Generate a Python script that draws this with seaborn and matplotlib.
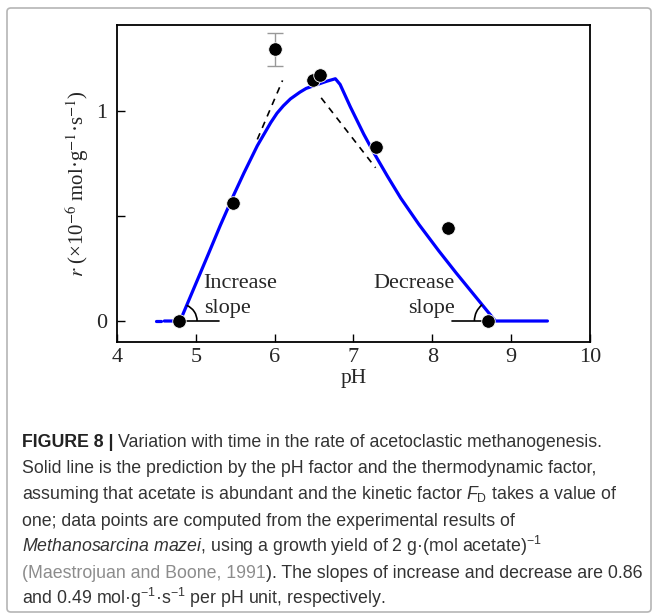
import matplotlib
matplotlib.use("Agg")
import matplotlib.pyplot as plt
import matplotlib.transforms as mtransforms
from matplotlib.patches import Arc, FancyBboxPatch
import numpy as np
import pandas as pd
import seaborn as sns

# ---------------- data ----------------
curve_ph = [4.60, 4.80, 5.16, 5.31, 5.48, 5.61, 5.78, 5.95, 6.03, 6.11, 6.20, 6.32, 6.40,
            6.49, 6.66, 6.77, 6.83, 6.96, 7.13, 7.26, 7.43, 7.60, 7.83, 8.08, 8.30, 8.55,
            8.80, 9.46]
curve_r = [0.0, 0.0, 0.32, 0.455, 0.60, 0.705, 0.835, 0.945, 0.99, 1.025, 1.058, 1.09, 1.108,
           1.12, 1.142, 1.154, 1.127, 1.02, 0.89, 0.80, 0.69, 0.585, 0.46, 0.335, 0.23, 0.115,
           0.0, 0.0]
lead_ph = [4.50, 4.56]
lead_r = [0.0, 0.0]

pts_ph = [4.79, 5.47, 6.00, 6.49, 6.58, 7.28, 8.20, 8.70]
pts_r = [0.0, 0.56, 1.294, 1.146, 1.171, 0.829, 0.444, 0.0]
err_ph = [6.00]
err_r = [1.294]
err_sd = [0.078]

tan_inc_ph = [5.78, 6.10]
tan_inc_r = [0.865, 1.146]
tan_dec_ph = [6.59, 7.28]
tan_dec_r = [1.063, 0.730]

xticks = [4, 5, 6, 7, 8, 9, 10]
yticks = [0, 0.5, 1]
ytick_labels = ["0", "", "1"]

caption_fs_target_px = 623.0

# ---------------- figure ----------------
sns.set_style("ticks")
plt.rcParams["mathtext.fontset"] = "custom"
plt.rcParams["mathtext.rm"] = "Liberation Sans"
plt.rcParams["mathtext.it"] = "Liberation Sans:italic"
plt.rcParams["mathtext.bf"] = "Liberation Sans:bold"

W, H = 657, 614
fig = plt.figure(figsize=(W / 100, H / 100), dpi=100)
ax = fig.add_axes([117 / W, 1 - 342 / H, (590 - 117) / W, (342 - 25) / H])

serif = "Liberation Serif"

df_curve = pd.DataFrame({"pH": curve_ph, "r": curve_r})
sns.lineplot(data=df_curve, x="pH", y="r", sort=False, estimator=None,
             color="#0000ff", lw=2.3, ax=ax, zorder=3)
ax.plot(lead_ph, lead_r, color="#0000ff", lw=2.3, zorder=3)
ax.plot(tan_inc_ph, tan_inc_r, color="black", lw=1.2, ls=(0, (4, 3.5)), zorder=2)
ax.plot(tan_dec_ph, tan_dec_r, color="black", lw=1.2, ls=(0, (4, 3.5)), zorder=2)
ax.errorbar(err_ph, err_r, yerr=err_sd, fmt="none", ecolor="#999999", elinewidth=1.0,
            capsize=5.5, capthick=1.0, zorder=2)
df_pts = pd.DataFrame({"pH": pts_ph, "r": pts_r})
sns.scatterplot(data=df_pts, x="pH", y="r", color="black", s=95, edgecolor="white",
                linewidth=0.6, ax=ax, zorder=5)

ax.set_xlim(4, 10)
ax.set_ylim(-0.1, 1.41)
ax.set_xticks(xticks)
ax.set_xticklabels([str(t) for t in xticks])
ax.set_yticks(yticks)
ax.set_yticklabels(ytick_labels)
ax.tick_params(direction="in", length=6, width=1.0, labelsize=16, color="black")
ax.tick_params(axis="x", pad=4)
ax.tick_params(axis="y", pad=7)
for lab in ax.get_xticklabels() + ax.get_yticklabels():
    lab.set_fontfamily(serif)
for sp in ax.spines.values():
    sp.set_linewidth(1.3)
    sp.set_color("black")

ax.set_xlabel("pH", fontsize=15.5, family=serif, labelpad=2)
ax.set_ylabel(r"$r$ (×10$^{-6}$ mol·g$^{-1}$·s$^{-1}$)", fontsize=15, family=serif,
              math_fontfamily="stix", labelpad=4)

# slope annotations
ax.plot([4.79, 5.30], [0, 0], color="black", lw=1.2, zorder=4)
ax.plot([8.25, 8.72], [0, 0], color="black", lw=1.2, zorder=4)


def pix_angle(p0, p1):
    a = ax.transData.transform(p0)
    b = ax.transData.transform(p1)
    return np.degrees(np.arctan2(b[1] - a[1], b[0] - a[0]))


def add_arc(center, t1, t2, rpx):
    tr = fig.dpi_scale_trans + mtransforms.ScaledTranslation(center[0], center[1], ax.transData)
    arc = Arc((0, 0), 2 * rpx / 100, 2 * rpx / 100, theta1=t1, theta2=t2,
              transform=tr, color="black", lw=1.2, zorder=4)
    ax.add_patch(arc)


a_inc = pix_angle((curve_ph[1], curve_r[1]), (curve_ph[2], curve_r[2]))
a_dec = pix_angle((curve_ph[26], curve_r[26]), (curve_ph[23], curve_r[23]))
add_arc((curve_ph[1], 0), 0, a_inc, 17)
add_arc((curve_ph[26], 0), a_dec, 180, 21)

ax.text(5.10, 0.156, "Increase", fontsize=16, family=serif, ha="left", va="baseline")
ax.text(5.10, 0.040, "slope", fontsize=16, family=serif, ha="left", va="baseline")
ax.text(8.28, 0.156, "Decrease", fontsize=16, family=serif, ha="right", va="baseline")
ax.text(8.28, 0.040, "slope", fontsize=16, family=serif, ha="right", va="baseline")

# ---------------- caption ----------------
border = FancyBboxPatch((7 / W, 1 - 612 / H), (651 - 7) / W, (612 - 8) / H,
                        boxstyle="round,pad=0,rounding_size=0.006",
                        transform=fig.transFigure, fc="none", ec="#b5b5b5", lw=1.2)
fig.patches.append(border)

cap_font = "Liberation Sans"
dark = "#333333"
grey = "#8c8c8c"

renderer = fig.canvas.get_renderer()
probe = fig.text(0, 0, "(Maestrojuan and Boone, 1991). The slopes of increase and decrease are 0.86",
                 fontsize=10, family=cap_font)
w10 = probe.get_window_extent(renderer).width
probe.remove()
cfs = 10 * caption_fs_target_px / w10

sp_probe1 = fig.text(0, 0, "a a", fontsize=cfs, family=cap_font)
sp_probe2 = fig.text(0, 0, "aa", fontsize=cfs, family=cap_font)
space_px = sp_probe1.get_window_extent(renderer).width - sp_probe2.get_window_extent(renderer).width
sp_probe1.remove()
sp_probe2.remove()

lines = [
    [("FIGURE 8 |", {"weight": "bold", "color": "#222222"}, False),
     ("Variation with time in the rate of acetoclastic methanogenesis.", {"color": dark}, True)],
    [("Solid line is the prediction by the pH factor and the thermodynamic factor,", {"color": dark}, False)],
    [(r"assuming that acetate is abundant and the kinetic factor $F_\mathrm{D}$ takes a value of", {"color": dark}, False)],
    [("one; data points are computed from the experimental results of", {"color": dark}, False)],
    [(r"$\mathit{Methanosarcina\ mazei}$, using a growth yield of 2 g·(mol acetate)$^{-1}$", {"color": dark}, False)],
    [("(Maestrojuan and Boone, 1991", {"color": grey}, False),
     ("). The slopes of increase and decrease are 0.86", {"color": dark}, False)],
    [(r"and 0.49 mol·g$^{-1}$·s$^{-1}$ per pH unit, respectively.", {"color": dark}, False)],
]
baselines = [447, 473, 499, 525.5, 552, 578, 604]
x0 = 22
for segs, yb in zip(lines, baselines):
    x = x0
    for txt, props, sp_before in segs:
        if sp_before:
            x += space_px
        t = fig.text(x / W, 1 - yb / H, txt, fontsize=cfs, family=cap_font,
                     va="baseline", ha="left", math_fontfamily="custom", **props)
        x += t.get_window_extent(renderer).width

fig.savefig("out.png", dpi=100)
